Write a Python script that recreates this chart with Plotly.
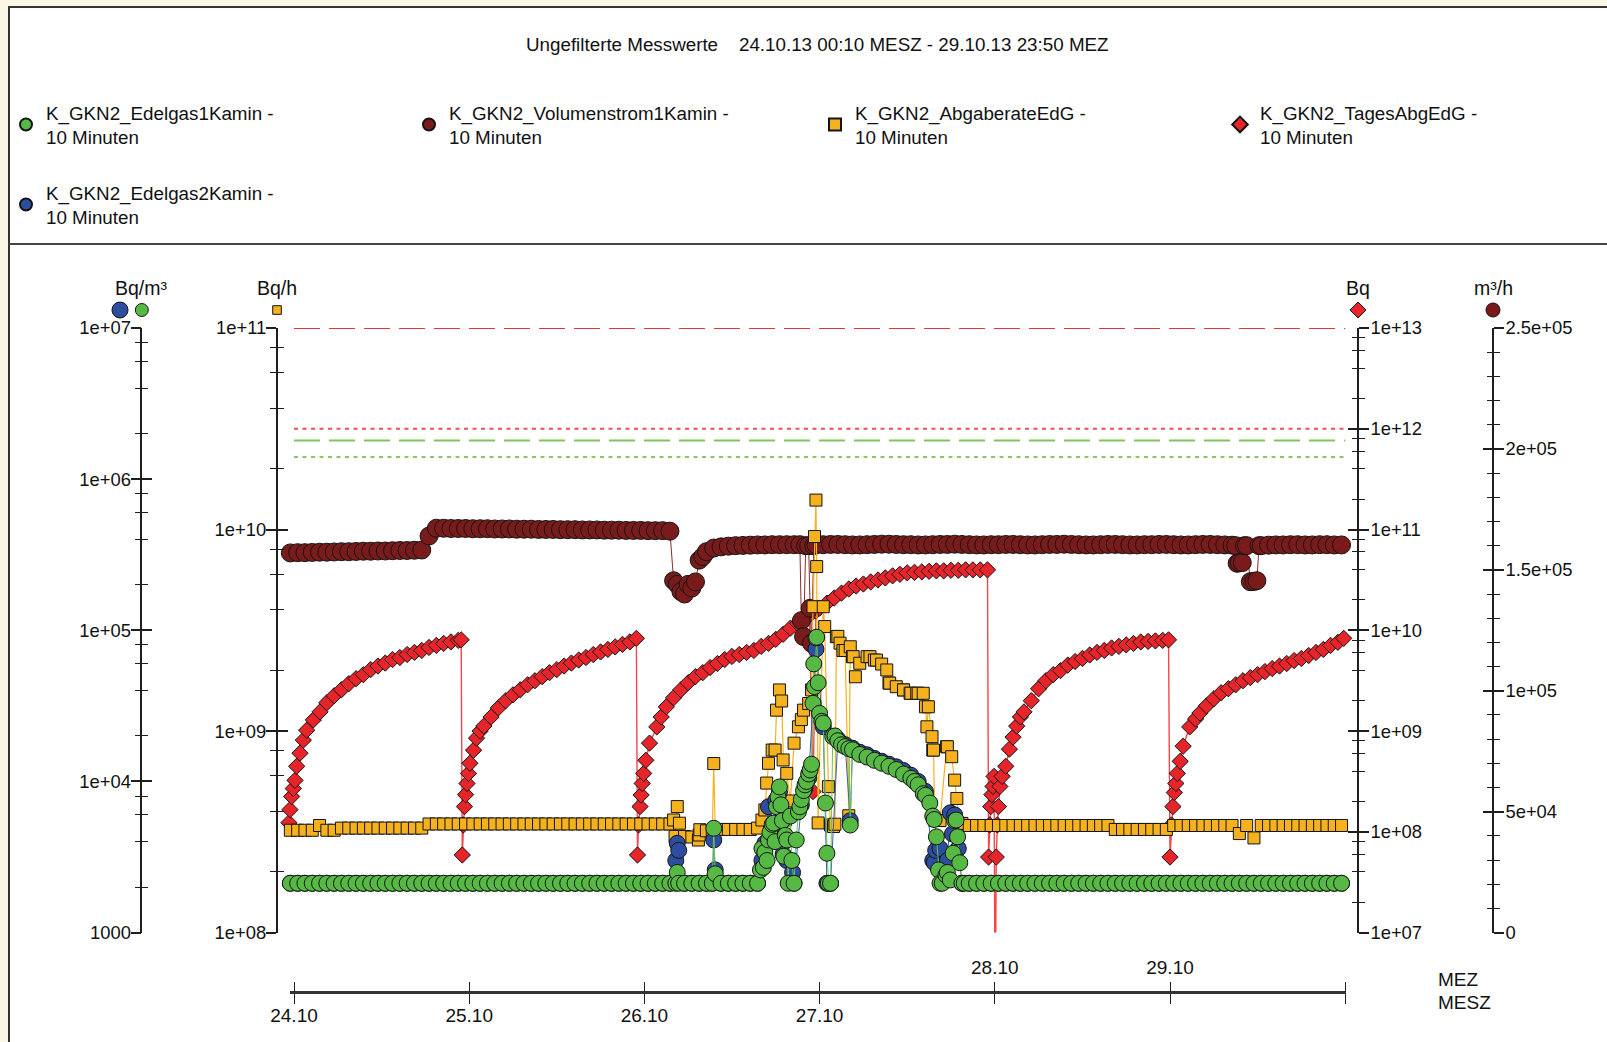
import plotly.graph_objects as go

W, H = 1607, 1042
FONT = "Liberation Sans, Arial, Helvetica, sans-serif"
TXT = "#111111"

# ---------------- data (hours since 24.10.13 00:00 MESZ, elapsed time) ----------------
HOURS = [0.5 + i for i in range(145)]  # hourly sampling grid

# K_GKN2_Edelgas1Kamin (Bq/m3)
GREEN_HOURLY = [
    2120, 2120, 2120, 2120, 2120, 2120, 2120, 2120, 2120, 2120, 2120, 2120, 2120, 2120, 2120, 2120, 2120, 2120,
    2120, 2120, 2120, 2120, 2120, 2120, 2120, 2120, 2120, 2120, 2120, 2120, 2120, 2120, 2120, 2120, 2120, 2120,
    2120, 2120, 2120, 2120, 2120, 2120, 2120, 2120, 2120, 2120, 2120, 2120, 2120, 2120, 2120, 2120, 2120,
    2500, 2120, 2120, 2120, 2120, 4900, 2120, 2120, 2120, 2120, 2120, 2120,
    3400, 5200, 9200, 4100, 2120, 7600, 11200, 89000, 24300, 2120, 18600, 17000, 16200, 15100, 14500, 13800,
    13200, 12600, 12000, 11200, 10500, 9500, 8100, 5900, 2120, 2500, 5500, 2120,
    2120, 2120, 2120, 2120, 2120, 2120, 2120, 2120, 2120, 2120, 2120, 2120, 2120, 2120, 2120, 2120, 2120, 2120,
    2120, 2120, 2120, 2120, 2120, 2120, 2120, 2120, 2120, 2120, 2120, 2120, 2120, 2120, 2120, 2120, 2120, 2120,
    2120, 2120, 2120, 2120, 2120, 2120, 2120, 2120, 2120, 2120, 2120, 2120, 2120, 2120, 2120, 2120,
]
GREEN_EXTRA_T = [53.3, 53.7, 58.3, 58.7, 64.9, 65.1, 65.3, 65.8, 66.0, 66.2, 66.7, 66.9, 67.1, 67.3,
                 67.7, 67.9, 68.1, 68.3, 68.7, 69.0, 69.2, 69.8, 70.1, 70.3, 70.8, 71.0, 71.2, 71.7, 71.9,
                 72.1, 72.2, 72.3, 72.6, 72.8, 73.0, 73.3, 73.8, 74.0, 74.2, 74.8, 75.1, 76.0, 77.0, 77.2,
                 86.0, 87.2, 88.1, 88.7, 89.0, 89.3, 89.8, 90.3, 90.9, 91.3, 91.7, 91.9, 92.2, 92.8]
GREEN_EXTRA_V = [2120, 2120, 2120, 2450, 2600, 3600, 2700, 3000, 4100, 4600, 5300, 4000, 6800, 7900,
                 7000, 5500, 3200, 4400, 2120, 5900, 3000, 4100, 6300, 6800, 8700, 9500, 10000, 11900, 13000,
                 32900, 60000, 42400, 90000, 45000, 28200, 25000, 7200, 3350, 2120, 19800, 20000, 17500, 16500, 5150,
                 10000, 8300, 7200, 5600, 4300, 2600, 2120, 2400, 2230, 3350, 5560, 4300, 2900, 2120]

# K_GKN2_Edelgas2Kamin (Bq/m3)
BLUE_HOURLY = [
    2120, 2120, 2120, 2120, 2120, 2120, 2120, 2120, 2120, 2120, 2120, 2120, 2120, 2120, 2120, 2120, 2120, 2120,
    2120, 2120, 2120, 2120, 2120, 2120, 2120, 2120, 2120, 2120, 2120, 2120, 2120, 2120, 2120, 2120, 2120, 2120,
    2120, 2120, 2120, 2120, 2120, 2120, 2120, 2120, 2120, 2120, 2120, 2120, 2120, 2120, 2120, 2120, 2120,
    3900, 2120, 2120, 2120, 2120, 4100, 2120, 2120, 2120, 2120, 2120, 2120,
    3900, 5000, 8500, 3000, 2120, 7000, 10500, 75000, 23000, 2120, 19000, 17500, 16600, 15600, 15000, 14200,
    13600, 13000, 12500, 11800, 11000, 10000, 8600, 3000, 3600, 3000, 6000, 2120,
    2120, 2120, 2120, 2120, 2120, 2120, 2120, 2120, 2120, 2120, 2120, 2120, 2120, 2120, 2120, 2120, 2120, 2120,
    2120, 2120, 2120, 2120, 2120, 2120, 2120, 2120, 2120, 2120, 2120, 2120, 2120, 2120, 2120, 2120, 2120, 2120,
    2120, 2120, 2120, 2120, 2120, 2120, 2120, 2120, 2120, 2120, 2120, 2120, 2120, 2120, 2120, 2120,
]
BLUE_EXTRA_T = [53.3, 53.7, 58.3, 58.7, 65.1, 66.0, 67.0, 68.0, 69.3, 71.0, 74.0, 77.2, 88.7, 88.9, 90.9, 91.2, 92.0]
BLUE_EXTRA_V = [3000, 3500, 2120, 2600, 3000, 6800, 7500, 3300, 2500, 9000, 2120, 5500, 2900, 3500, 6200, 4500, 3600]

# K_GKN2_AbgaberateEdG (Bq/h)
YELLOW_HOURLY = [
    3.22e8, 3.22e8, 3.22e8, 3.22e8, 3.40e8, 3.22e8, 3.22e8,
    3.30e8, 3.30e8, 3.30e8, 3.30e8, 3.30e8, 3.30e8, 3.30e8, 3.30e8, 3.30e8, 3.30e8, 3.30e8, 3.30e8,
    3.46e8, 3.46e8, 3.46e8, 3.46e8, 3.46e8, 3.46e8, 3.46e8, 3.46e8, 3.46e8, 3.46e8, 3.46e8, 3.46e8,
    3.46e8, 3.46e8, 3.46e8, 3.46e8, 3.46e8, 3.46e8, 3.46e8, 3.46e8, 3.46e8, 3.46e8, 3.46e8, 3.46e8,
    3.46e8, 3.46e8, 3.46e8, 3.46e8, 3.46e8, 3.46e8, 3.46e8, 3.46e8, 3.46e8, 3.46e8,
    4.22e8, 3.00e8, 2.98e8, 3.05e8, 3.20e8, 6.90e8, 3.25e8, 3.25e8, 3.25e8, 3.25e8, 3.25e8, 3.30e8,
    4.06e8, 8.05e8, 1.60e9, 6.17e8, 8.71e8, 1.14e9, 1.37e9, 1.40e10, 4.14e9, 3.42e8,
    2.95e9, 2.51e9, 2.34e9, 2.17e9, 2.34e9, 2.25e9, 2.15e9, 1.73e9, 1.66e9, 1.60e9, 1.54e9, 1.54e9, 1.32e9,
    8.05e8, 3.60e8, 8.36e8, 5.71e8, 3.48e8,
    3.40e8, 3.40e8, 3.40e8, 3.40e8, 3.40e8, 3.40e8, 3.40e8, 3.40e8, 3.40e8, 3.40e8,
    3.40e8, 3.40e8, 3.40e8, 3.40e8, 3.40e8, 3.40e8, 3.40e8, 3.40e8, 3.40e8, 3.40e8,
    3.25e8, 3.25e8, 3.25e8, 3.25e8, 3.25e8, 3.25e8, 3.25e8, 3.25e8,
    3.40e8, 3.40e8, 3.40e8, 3.40e8, 3.40e8, 3.40e8, 3.40e8, 3.40e8, 3.40e8,
    3.10e8, 3.40e8, 2.95e8, 3.40e8,
    3.40e8, 3.40e8, 3.40e8, 3.40e8, 3.40e8, 3.40e8, 3.40e8, 3.40e8, 3.40e8, 3.40e8, 3.40e8,
]
YELLOW_EXTRA_T = [53.0, 53.2, 53.8, 56.4, 56.6, 58.3, 58.7, 65.1, 65.75, 66.0,
                  66.9, 67.1, 67.8, 68.0, 68.3, 69.0, 70.1, 70.8, 71.9, 72.1,
                  72.3, 72.6, 72.8, 73.7, 74.2, 74.9, 75.1, 75.3, 75.8, 76.2,
                  77.0, 77.2, 77.6, 77.9, 79.9, 80.8, 82.2, 82.6, 84.5, 85.4,
                  86.3, 87.2, 87.7, 87.9, 88.4, 88.6, 88.8, 90.4, 91.1, 91.8, 92.2]
YELLOW_EXTRA_V = [3.62e8, 3.00e8, 3.49e8, 2.88e8, 3.24e8, 3.20e8, 3.25e8, 3.62e8, 5.52e8, 6.92e8,
                  8.05e8, 1.27e9, 1.41e9, 7.19e8, 3.62e8, 4.50e8, 1.05e9, 1.27e9, 1.60e9, 4.14e9,
                  9.23e9, 6.55e9, 3.50e8, 3.30e9, 5.30e8, 3.36e8, 3.45e8, 2.94e9, 2.73e9, 2.51e9,
                  3.80e8, 2.62e9, 2.34e9, 1.86e9, 2.34e9, 2.25e9, 2.01e9, 1.73e9, 1.60e9, 1.54e9,
                  1.54e9, 1.54e9, 1.05e9, 1.32e9, 9.38e8, 8.05e8, 3.60e8, 8.36e8, 7.46e8, 4.63e8, 3.48e8]

# K_GKN2_Volumenstrom1Kamin (m3/h)
MAROON_HOURLY = [
    1.570e5, 1.571e5, 1.571e5, 1.572e5, 1.573e5, 1.573e5, 1.574e5, 1.575e5, 1.575e5, 1.576e5,
    1.577e5, 1.577e5, 1.578e5, 1.578e5, 1.579e5, 1.580e5, 1.580e5, 1.581e5, 1.582e5,
    1.640e5,
    1.672e5, 1.672e5, 1.671e5, 1.671e5, 1.671e5, 1.670e5, 1.670e5, 1.670e5, 1.669e5, 1.669e5,
    1.669e5, 1.668e5, 1.668e5, 1.668e5, 1.667e5, 1.667e5, 1.667e5, 1.666e5, 1.666e5, 1.666e5,
    1.665e5, 1.665e5, 1.665e5, 1.664e5, 1.664e5, 1.664e5, 1.663e5, 1.663e5, 1.663e5, 1.662e5,
    1.662e5, 1.662e5,
    1.660e5, 1.440e5, 1.400e5, 1.425e5, 1.540e5, 1.575e5, 1.590e5,
    1.595e5, 1.598e5, 1.600e5, 1.601e5, 1.602e5, 1.603e5, 1.603e5, 1.604e5, 1.604e5, 1.604e5,
    1.604e5, 1.290e5, 1.600e5, 1.604e5,
    1.604e5, 1.605e5, 1.605e5, 1.604e5, 1.603e5, 1.603e5, 1.604e5, 1.605e5, 1.606e5, 1.606e5,
    1.605e5, 1.604e5, 1.604e5, 1.603e5, 1.603e5, 1.604e5, 1.605e5, 1.605e5, 1.606e5, 1.605e5,
    1.604e5, 1.603e5, 1.603e5, 1.604e5, 1.604e5, 1.605e5, 1.605e5, 1.604e5, 1.603e5, 1.603e5,
    1.604e5, 1.605e5, 1.605e5, 1.606e5, 1.605e5, 1.604e5, 1.603e5, 1.603e5, 1.604e5, 1.605e5,
    1.605e5, 1.604e5, 1.603e5, 1.603e5, 1.604e5, 1.604e5, 1.605e5, 1.605e5, 1.604e5, 1.603e5,
    1.603e5, 1.604e5, 1.605e5, 1.605e5, 1.604e5,
    1.603e5, 1.602e5, 1.530e5, 1.600e5, 1.452e5, 1.600e5,
    1.602e5, 1.603e5, 1.603e5, 1.604e5, 1.604e5, 1.603e5, 1.603e5, 1.604e5, 1.604e5, 1.603e5, 1.603e5,
]
MAROON_EXTRA_T = [53.0, 54.0, 55.0, 56.0, 57.0, 70.3, 70.8, 71.1, 71.7, 71.9, 72.2,
                  130.0, 130.2, 130.9, 131.2, 132.0, 132.9, 133.2]
MAROON_EXTRA_V = [1.455e5, 1.410e5, 1.440e5, 1.450e5, 1.555e5, 1.604e5, 1.224e5, 1.600e5, 1.341e5, 1.196e5,
                  1.600e5, 1.600e5, 1.527e5, 1.530e5, 1.600e5, 1.451e5, 1.455e5, 1.600e5]

# K_GKN2_TagesAbgEdG (Bq) - daily cumulative release
RED_T = [
    0.30, 0.45, 0.68, 0.90, 1.14, 1.37, 1.82, 2.28, 2.74, 3.65, 4.56, 5.5, 6.5, 7.5, 8.5, 9.5, 10.5, 11.5,
    12.5, 13.5, 14.5, 15.5, 16.5, 17.5, 18.5, 19.5, 20.5, 21.5, 22.5, 23.5, 23.9,
    24.05, 24.2, 24.35, 24.5, 24.7, 24.9, 25.1, 25.6, 26.0, 26.5, 27.0, 28.0, 29.0, 30.0, 31.0, 32.0, 33.0,
    34.0, 35.0, 36.0, 37.0, 38.0, 39.0, 40.0, 41.0, 42.0, 43.0, 44.0, 45.0, 46.0, 47.0, 47.9,
    48.05, 48.2, 48.4, 48.55, 48.7, 48.9, 49.2, 49.7, 50.7, 51.3, 52.0, 53.0, 54.0, 55.0, 56.0, 57.0, 58.0,
    59.0, 60.0, 61.0, 62.0, 63.0, 64.0, 65.0, 66.0, 67.0, 68.0, 69.0, 70.0, 71.0, 71.6, 72.1, 72.5, 73.0,
    74.0, 75.0, 76.0, 77.0, 78.0, 79.0, 80.0, 81.0, 82.0, 83.0, 84.0, 85.0, 86.0, 87.0, 88.0, 89.0, 90.0,
    91.0, 92.0, 93.0, 94.0, 95.0, 96.0,
    96.15, 96.3, 96.45, 96.6, 96.75, 96.9, 97.05, 97.2, 97.35, 97.5, 97.7, 98.0, 98.5, 99.0, 99.5, 100.0,
    100.5, 101.0, 102.0, 103.0, 104.0, 105.0, 106.0, 107.0, 108.0, 109.0, 110.0, 111.0, 112.0, 113.0,
    114.0, 115.0, 116.0, 117.0, 118.0, 119.0, 120.0, 120.8,
    121.0, 121.2, 121.4, 121.6, 121.8, 122.0, 122.4, 122.8, 123.7, 124.5, 125.1, 126.0, 127.0, 128.0,
    129.0, 130.0, 131.0, 132.0, 133.0, 134.0, 135.0, 136.0, 137.0, 138.0, 139.0, 140.0, 141.0, 142.0,
    143.0, 144.0, 144.8,
]
RED_V = [
    1.23e8, 1.66e8, 2.24e8, 2.69e8, 3.24e8, 4.47e8, 6.03e8, 8.13e8, 1.02e9, 1.29e9, 1.55e9, 1.91e9, 2.24e9,
    2.57e9, 2.95e9, 3.31e9, 3.63e9, 4.07e9, 4.42e9, 4.73e9, 5.13e9, 5.37e9, 5.75e9, 6.03e9, 6.31e9, 6.76e9,
    7.08e9, 7.41e9, 7.67e9, 7.94e9, 8.04e9,
    5.89e7, 1.17e8, 1.78e8, 2.34e8, 3.02e8, 3.80e8, 4.79e8, 6.46e8, 8.51e8, 1.00e9, 1.12e9, 1.38e9, 1.70e9,
    2.00e9, 2.29e9, 2.57e9, 2.88e9, 3.16e9, 3.47e9, 3.80e9, 4.07e9, 4.42e9, 4.73e9, 5.07e9, 5.37e9, 5.75e9,
    6.10e9, 6.46e9, 6.84e9, 7.24e9, 7.67e9, 8.32e9,
    5.89e7, 1.17e8, 1.78e8, 2.32e8, 3.02e8, 3.80e8, 5.13e8, 7.59e8, 1.10e9, 1.38e9, 1.74e9, 2.14e9, 2.57e9,
    3.02e9, 3.47e9, 3.80e9, 4.27e9, 4.68e9, 5.13e9, 5.50e9, 5.75e9, 6.03e9, 6.31e9, 6.92e9, 7.41e9, 8.13e9,
    9.12e9, 1.05e10, 1.17e10, 1.32e10, 1.41e10, 2.51e8, 1.55e10, 1.66e10, 1.86e10, 2.09e10, 2.34e10, 2.57e10,
    2.75e10, 2.88e10, 3.02e10, 3.16e10, 3.31e10, 3.47e10, 3.59e10, 3.72e10, 3.76e10, 3.80e10, 3.85e10,
    3.89e10, 3.89e10, 3.94e10, 3.94e10, 3.98e10, 3.98e10, 3.98e10, 3.98e10,
    5.62e7, 1.17e8, 1.78e8, 2.34e8, 2.82e8, 3.55e8, 1.0e6, 5.62e7, 1.17e8, 1.78e8, 2.82e8, 3.55e8, 4.47e8,
    6.61e8, 8.71e8, 1.12e9, 1.38e9, 1.55e9, 2.00e9, 2.63e9, 3.16e9, 3.63e9, 3.98e9, 4.52e9, 4.90e9, 5.25e9,
    5.69e9, 6.03e9, 6.31e9, 6.68e9, 6.92e9, 7.16e9, 7.41e9, 7.67e9, 7.76e9, 7.85e9, 7.94e9, 8.04e9,
    5.62e7, 1.17e8, 1.78e8, 2.45e8, 3.02e8, 3.80e8, 5.01e8, 7.08e8, 1.10e9, 1.32e9, 1.51e9, 1.78e9, 2.09e9,
    2.40e9, 2.63e9, 2.88e9, 3.16e9, 3.39e9, 3.63e9, 3.89e9, 4.17e9, 4.42e9, 4.68e9, 5.01e9, 5.25e9, 5.62e9,
    6.03e9, 6.46e9, 7.08e9, 7.59e9, 8.32e9,
]

# limit lines
LIMIT_T = [1.0, 145.0]
RED_LIMIT_DAY = 1e13     # Bq
RED_LIMIT_LOW = 1e12     # Bq
GREEN_LIMIT_HI = 1.8e6   # Bq/m3
GREEN_LIMIT_LO = 1.4e6   # Bq/m3

# time axis
DAY_TICKS = [1, 25, 49, 73, 97, 121, 145]
DAY_LABELS_MESZ = ["24.10", "25.10", "26.10", "27.10", "", "", ""]
DAY_LABELS_MEZ = ["", "", "", "", "28.10", "29.10", ""]

NAMES = {
    "green": "K_GKN2_Edelgas1Kamin -<br>10 Minuten",
    "maroon": "K_GKN2_Volumenstrom1Kamin -<br>10 Minuten",
    "yellow": "K_GKN2_AbgaberateEdG -<br>10 Minuten",
    "red": "K_GKN2_TagesAbgEdG -<br>10 Minuten",
    "blue": "K_GKN2_Edelgas2Kamin -<br>10 Minuten",
}


def merged(hourly, extra_t, extra_v):
    assert len(hourly) == len(HOURS), len(hourly)
    assert len(extra_t) == len(extra_v)
    pairs = sorted(zip(HOURS + list(extra_t), list(hourly) + list(extra_v)), key=lambda p: p[0])
    return [p[0] for p in pairs], [p[1] for p in pairs]


assert len(RED_T) == len(RED_V), (len(RED_T), len(RED_V))

GREEN_T, GREEN_V = merged(GREEN_HOURLY, GREEN_EXTRA_T, GREEN_EXTRA_V)
BLUE_T, BLUE_V = merged(BLUE_HOURLY, BLUE_EXTRA_T, BLUE_EXTRA_V)
YELLOW_T, YELLOW_V = merged(YELLOW_HOURLY, YELLOW_EXTRA_T, YELLOW_EXTRA_V)
MAROON_T, MAROON_V = merged(MAROON_HOURLY, MAROON_EXTRA_T, MAROON_EXTRA_V)


# ---------------- geometry helpers (pixel -> paper fraction) ----------------
def px(x):
    return x / W


def py(y):
    return 1 - y / H


X0_PX, PX_PER_H = 286.7, 7.3
PLOT_L, PLOT_R = 276.7, 1358.0
PLOT_T, PLOT_B = 328.0, 932.6
YDOM = [py(PLOT_B), py(PLOT_T)]


def h_of(xpx):
    return (xpx - X0_PX) / PX_PER_H


COL = {
    "green": "#55B944", "blue": "#2D4E9E", "maroon": "#7A1B1B",
    "yellow": "#F6B21E", "red": "#E8242B",
}
LINECOL = {
    "green": "#66C756", "blue": "#3A5DB0", "maroon": "#8A2B2B",
    "yellow": "#F6B21E", "red": "#F2474A",
}

fig = go.Figure()


def add_series(key, t, v, yaxis, symbol, size, legend, rank, lw=1.2):
    fig.add_trace(go.Scatter(
        x=t, y=v, mode="lines", yaxis=yaxis, showlegend=False, hoverinfo="skip",
        line=dict(color=LINECOL[key], width=lw)))
    fig.add_trace(go.Scatter(
        x=t, y=v, mode="markers", yaxis=yaxis, name=NAMES[key], legend=legend, legendrank=rank,
        hoverinfo="skip",
        marker=dict(symbol=symbol, size=size, color=COL[key], line=dict(color="#141414", width=1))))


# layer y (Bq): red limits + TagesAbg
fig.add_trace(go.Scatter(x=LIMIT_T, y=[RED_LIMIT_DAY] * 2, mode="lines", yaxis="y", showlegend=False,
                         hoverinfo="skip", line=dict(color="#E8323A", width=2, dash="26px,9px")))
fig.add_trace(go.Scatter(x=LIMIT_T, y=[RED_LIMIT_LOW] * 2, mode="lines", yaxis="y", showlegend=False,
                         hoverinfo="skip", line=dict(color="#EE5058", width=2, dash="4px,4.5px")))
add_series("red", RED_T, RED_V, "y", "diamond", 12.5, "legend4", 4, lw=1.4)
# layer y2 (m3/h)
add_series("maroon", MAROON_T, MAROON_V, "y2", "circle", 18, "legend2", 2, lw=1.0)
# layer y3 (Bq/h)
add_series("yellow", YELLOW_T, YELLOW_V, "y3", "square", 12, "legend3", 3, lw=1.2)
# layer y4 (Bq/m3)
fig.add_trace(go.Scatter(x=LIMIT_T, y=[GREEN_LIMIT_HI] * 2, mode="lines", yaxis="y4", showlegend=False,
                         hoverinfo="skip", line=dict(color="#7DC55E", width=2, dash="26px,9px")))
fig.add_trace(go.Scatter(x=LIMIT_T, y=[GREEN_LIMIT_LO] * 2, mode="lines", yaxis="y4", showlegend=False,
                         hoverinfo="skip", line=dict(color="#86CA68", width=2, dash="4px,4.5px")))
add_series("blue", BLUE_T, BLUE_V, "y4", "circle", 16, "legend5", 5, lw=1.0)
add_series("green", GREEN_T, GREEN_V, "y4", "circle", 16, "legend", 1, lw=1.0)

# dummy traces for twin / time axes
for ya in ["y5", "y6", "y7", "y8"]:
    fig.add_trace(go.Scatter(x=[None], y=[None], yaxis=ya, showlegend=False, hoverinfo="skip"))
for xa in ["x2", "x3"]:
    fig.add_trace(go.Scatter(x=[None], y=[None], xaxis=xa, yaxis="y", showlegend=False, hoverinfo="skip"))


def log_minor(lo, hi):
    return [m * 10 ** d for d in range(lo, hi) for m in (2, 4, 6, 8)]


AXC = "#1e1e1e"
YTICKFONT = dict(family=FONT, size=18.4, color=TXT)
XTICKFONT = dict(family=FONT, size=19, color=TXT)


def yaxis_def(pos, side, typ, rng, tickvals, ticktext, minor, overlay, twin):
    d = dict(
        type=typ, range=rng, domain=YDOM, anchor="free", position=px(pos), side=side,
        showgrid=False, zeroline=False,
        tickmode="array", tickvals=tickvals, ticktext=ticktext,
        ticks="inside" if twin else "outside", ticklen=10, tickwidth=1.5, tickcolor=AXC,
        showticklabels=not twin, tickfont=YTICKFONT,
        ticklabelstandoff=-4 if side == "left" else -2,
        showline=not twin, linecolor=AXC, linewidth=1.5,
        minor=dict(ticks="inside" if twin else "outside", ticklen=6, tickwidth=1.3, tickcolor=AXC,
                   showgrid=False, **minor),
    )
    if overlay:
        d["overlaying"] = "y"
    return d


BQ_VALS = [10 ** k for k in range(7, 14)]
BQ_TXT = ["1e+%02d" % k for k in range(7, 14)]
M3_VALS = [0, 5e4, 1e5, 1.5e5, 2e5, 2.5e5]
M3_TXT = ["0", "5e+04", "1e+05", "1.5e+05", "2e+05", "2.5e+05"]
BQH_VALS = [10 ** k for k in range(8, 12)]
BQH_TXT = ["1e+%02d" % k for k in range(8, 12)]
BQM_VALS = [10 ** k for k in range(3, 8)]
BQM_TXT = ["1000", "1e+04", "1e+05", "1e+06", "1e+07"]

axes = {}
specs = [
    ("yaxis", "yaxis5", PLOT_R, "right", "log", [7, 13], BQ_VALS, BQ_TXT,
     dict(tickmode="array", tickvals=log_minor(7, 13))),
    ("yaxis2", "yaxis6", 1493.0, "right", "linear", [0, 2.5e5], M3_VALS, M3_TXT,
     dict(dtick=1e4, tick0=0)),
    ("yaxis3", "yaxis7", PLOT_L, "left", "log", [8, 11], BQH_VALS, BQH_TXT,
     dict(tickmode="array", tickvals=log_minor(8, 11))),
    ("yaxis4", "yaxis8", 141.4, "left", "log", [3, 7], BQM_VALS, BQM_TXT,
     dict(tickmode="array", tickvals=log_minor(3, 7))),
]
for name, twin, pos, side, typ, rng, vals, txt, minor in specs:
    axes[name] = yaxis_def(pos, side, typ, rng, vals, txt, minor, overlay=(name != "yaxis"), twin=False)
    axes[twin] = yaxis_def(pos, side, typ, rng, vals, txt, minor, overlay=True, twin=True)

TL, TR = 290.0, 1346.0
TIME_POS = py(992)
axes["xaxis"] = dict(domain=[px(PLOT_L), px(PLOT_R)], range=[h_of(PLOT_L), h_of(PLOT_R)],
                     visible=False, showgrid=False, zeroline=False)
axes["xaxis2"] = dict(domain=[px(TL), px(TR)], range=[h_of(TL), h_of(TR)], anchor="free",
                      position=TIME_POS, side="bottom", showgrid=False, zeroline=False,
                      showline=True, linecolor="#333333", linewidth=2.5,
                      tickmode="array", tickvals=DAY_TICKS, ticktext=DAY_LABELS_MESZ,
                      ticks="outside", ticklen=10, tickwidth=1.3, tickcolor="#222", tickfont=XTICKFONT,
                      ticklabelstandoff=-5)
axes["xaxis3"] = dict(domain=[px(TL), px(TR)], range=[h_of(TL), h_of(TR)], anchor="free",
                      overlaying="x2", position=TIME_POS, side="top", showgrid=False, zeroline=False,
                      showline=False, tickmode="array", tickvals=DAY_TICKS, ticktext=DAY_LABELS_MEZ,
                      ticks="outside", ticklen=10, tickwidth=1.3, tickcolor="#222", tickfont=XTICKFONT)

LEGFONT = dict(family=FONT, size=18.8, color=TXT)


def legend_at(marker_x, ytop):
    # legend symbol is drawn 20px right of the legend's left edge
    return dict(x=(marker_x - 20) / W, y=py(ytop), xanchor="left", yanchor="top",
                orientation="v", bgcolor="rgba(0,0,0,0)", borderwidth=0, font=LEGFONT,
                itemsizing="constant")


legends = dict(
    legend=legend_at(26, 93.5),
    legend2=legend_at(429, 93.5),
    legend3=legend_at(835, 93.5),
    legend4=legend_at(1240, 93.5),
    legend5=legend_at(26, 173.5),
)

CREAM = "#FAF7E6"
shapes = [
    dict(type="rect", xref="paper", yref="paper", x0=0, x1=px(8), y0=0, y1=1,
         fillcolor=CREAM, line=dict(width=0), layer="below"),
    dict(type="rect", xref="paper", yref="paper", x0=0, x1=1, y0=py(6), y1=1,
         fillcolor=CREAM, line=dict(width=0), layer="below"),
    dict(type="line", xref="paper", yref="paper", x0=px(9), x1=px(9), y0=0, y1=py(6),
         line=dict(color="#333333", width=2)),
    dict(type="line", xref="paper", yref="paper", x0=px(8), x1=1, y0=py(7), y1=py(7),
         line=dict(color="#333333", width=2)),
    dict(type="line", xref="paper", yref="paper", x0=px(9), x1=1, y0=py(244), y1=py(244),
         line=dict(color="#444444", width=2)),
]


def sym(shape, xpx, ypx, r, color):
    base = dict(xref="paper", yref="paper", xsizemode="pixel", ysizemode="pixel",
                xanchor=px(xpx), yanchor=py(ypx), fillcolor=color, line=dict(color="#141414", width=1))
    if shape == "circle":
        base.update(type="circle", x0=-r, x1=r, y0=-r, y1=r)
    elif shape == "square":
        base.update(type="rect", x0=-r, x1=r, y0=-r, y1=r)
    else:
        base.update(type="path", path=f"M 0 {r} L {r} 0 L 0 {-r} L {-r} 0 Z")
    return base


shapes += [
    sym("circle", 120, 310, 8, COL["blue"]),
    sym("circle", 141.8, 310, 6.5, COL["green"]),
    sym("square", 277, 310, 4.3, COL["yellow"]),
    sym("diamond", 1358, 310, 8, COL["red"]),
    sym("circle", 1493, 310, 7, COL["maroon"]),
]


def ann(text, xpx, ypx, xanchor="center", size=18.8):
    return dict(text=text, x=px(xpx), y=py(ypx), xref="paper", yref="paper", showarrow=False,
                xanchor=xanchor, yanchor="middle", font=dict(family=FONT, size=size, color=TXT))


annotations = [
    ann("Ungefilterte Messwerte\u00a0\u00a0\u00a0 24.10.13 00:10 MESZ - 29.10.13 23:50 MEZ", 818, 45, size=18.8),
    ann("Bq/m\u00b3", 141.4, 288, size=19.5),
    ann("Bq/h", 276.7, 288, size=19.5),
    ann("Bq", 1358, 288, size=19.5),
    ann("m\u00b3/h", 1493, 288, size=19.5),
    ann("MEZ", 1436, 979, xanchor="left", size=19),
    ann("MESZ", 1436, 1002, xanchor="left", size=19),
]

fig.update_layout(
    width=W, height=H, autosize=False,
    margin=dict(l=0, r=0, t=0, b=0, pad=0, autoexpand=False),
    paper_bgcolor="white", plot_bgcolor="rgba(0,0,0,0)",
    font=dict(family=FONT, size=18, color=TXT),
    hovermode=False, showlegend=True,
    shapes=shapes, annotations=annotations,
    **axes, **legends,
)

fig.write_html("out.html")
